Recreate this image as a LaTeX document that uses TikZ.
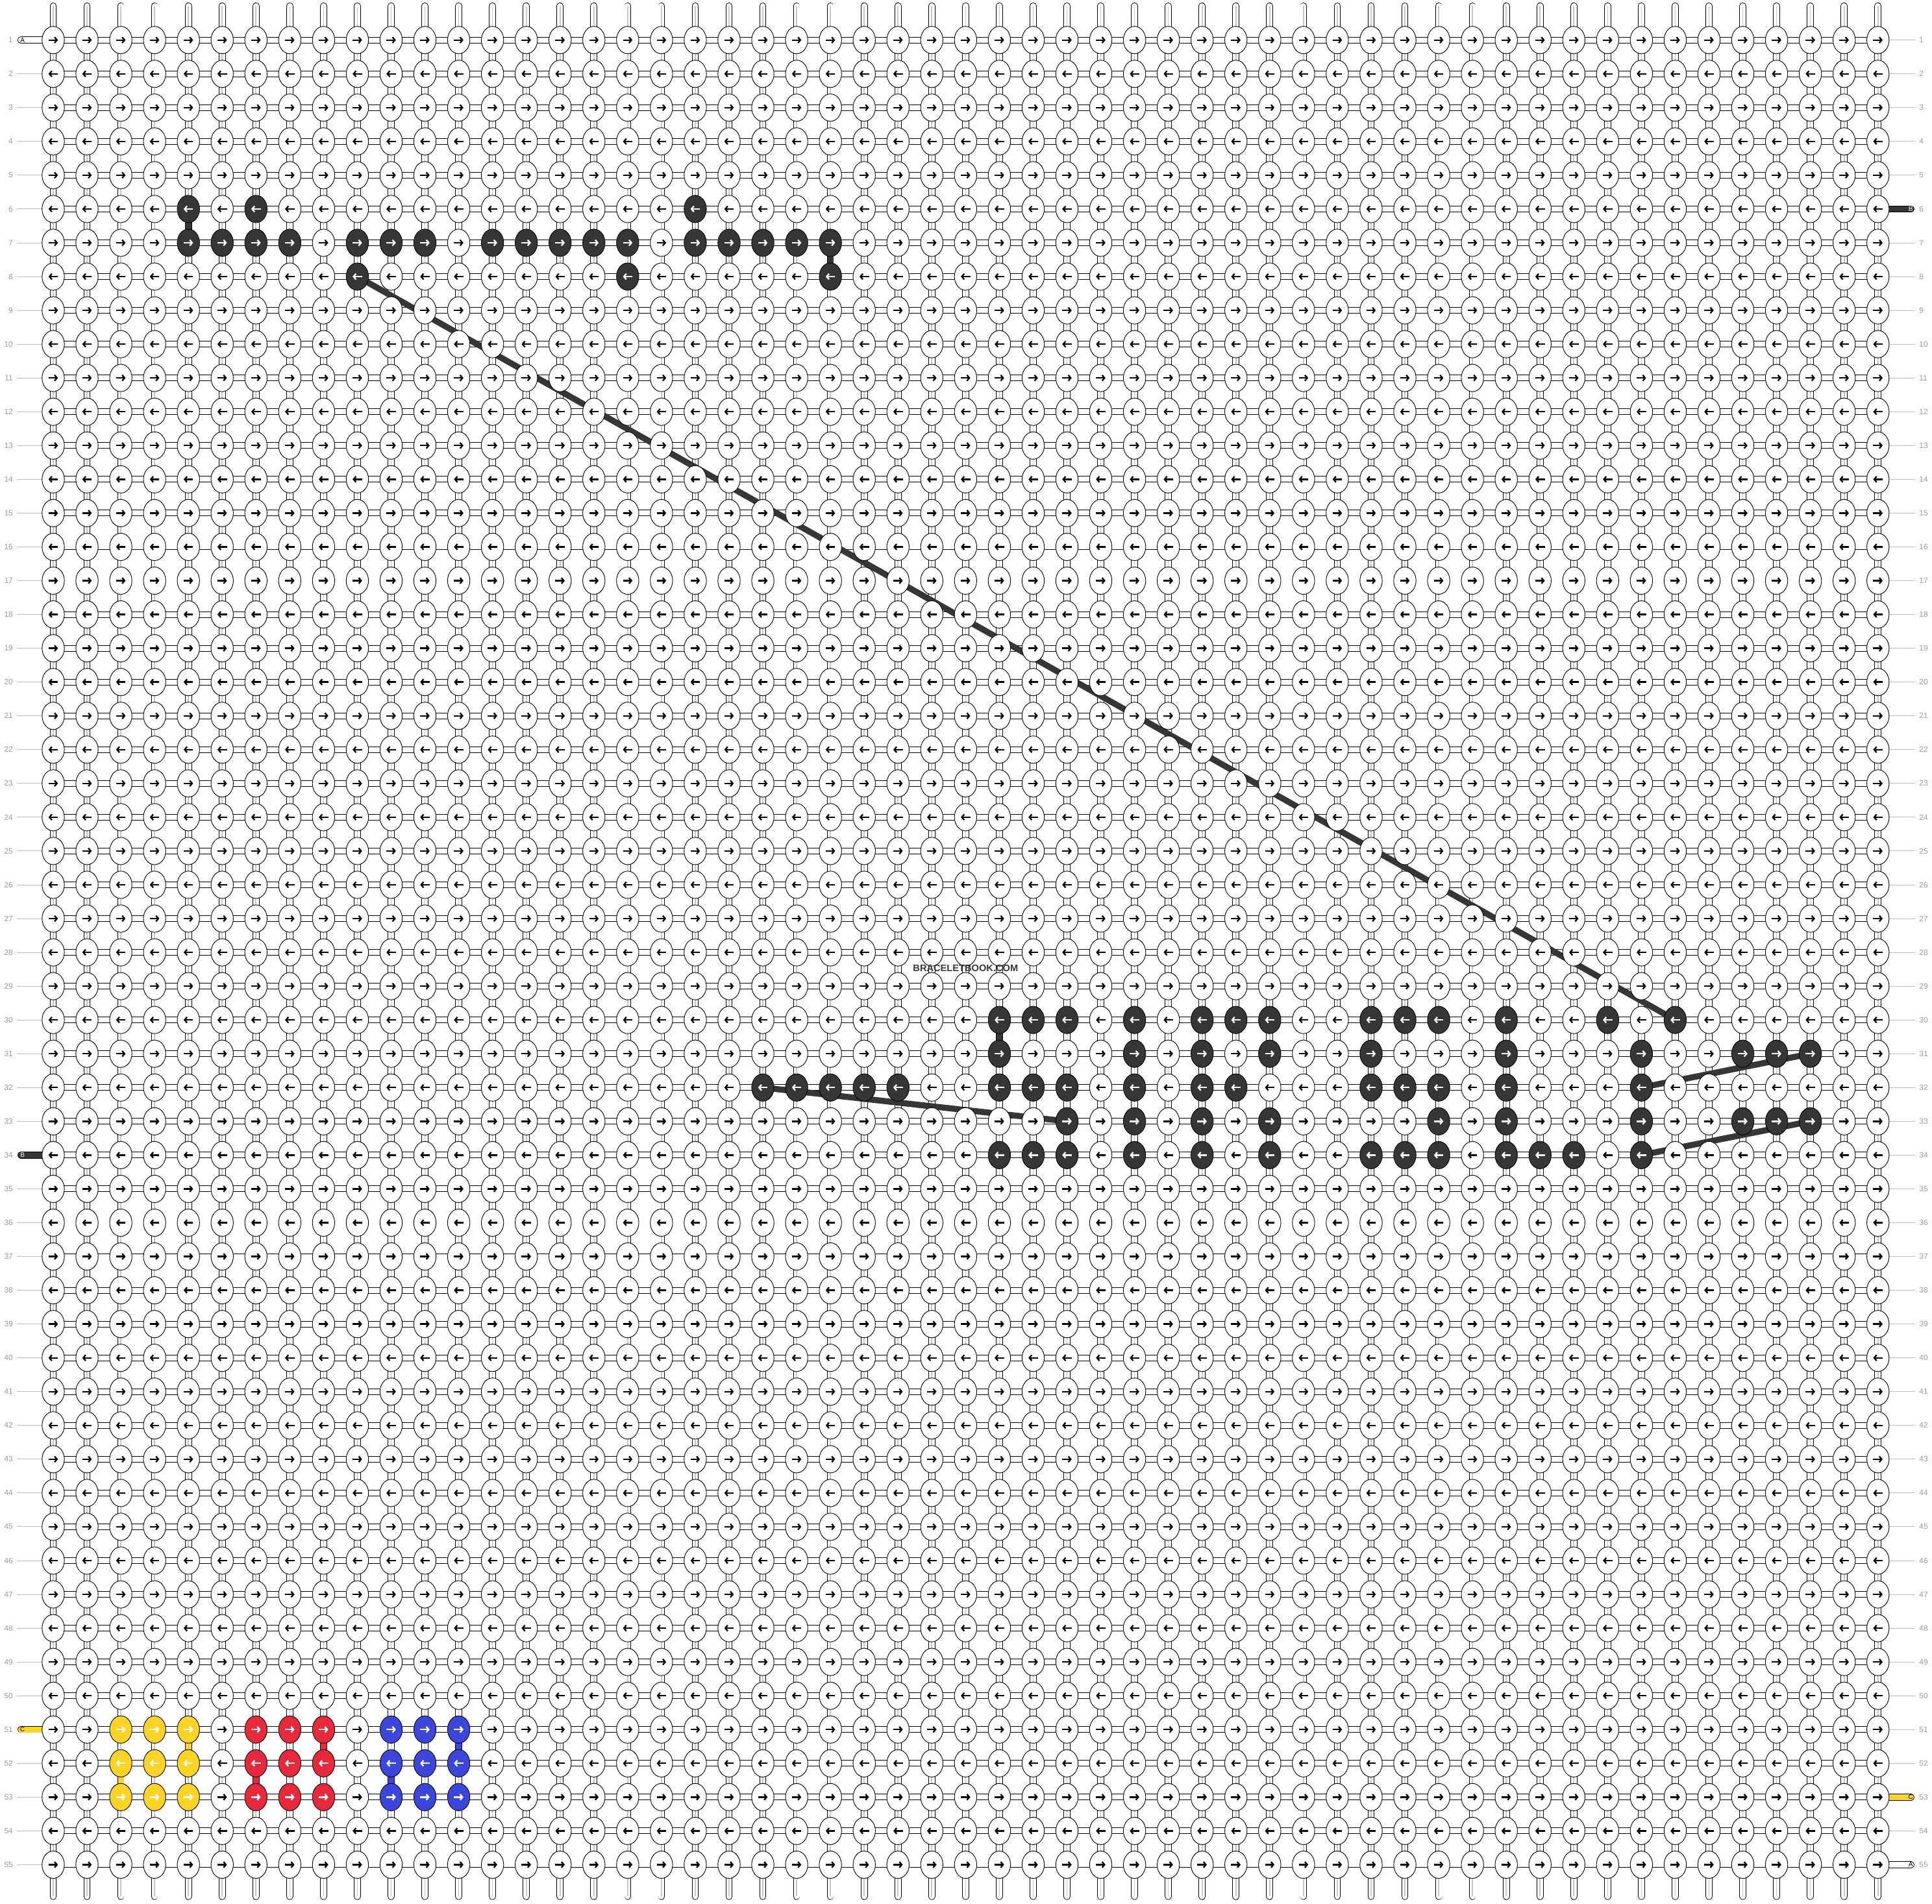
\documentclass[tikz,border=0pt]{standalone}
\usepackage{fontspec}
\setmainfont{Liberation Sans}
\usetikzlibrary{arrows.meta, positioning}
\pgfdeclarelayer{background}
\pgfdeclarelayer{foreground}
\pgfsetlayers{background,main,foreground}

\definecolor{darkB}{HTML}{363636}
\definecolor{yellowC}{HTML}{FDD424}
\definecolor{redK}{HTML}{E8283B}
\definecolor{blueK}{HTML}{3A46DC}
\definecolor{numgray}{HTML}{9A9A9A}
\definecolor{linegray}{HTML}{BDBDBD}
\definecolor{coregray}{HTML}{C8C8C8}

\tikzset{knot/.style={inner sep=0pt, outer sep=0pt},
  tube/.style={line width=0.5pt, double=white, double distance=0.17cm, line cap=round},
  tubecore/.style={line width=0.9pt, draw=coregray},
  htube/.style={line width=0.5pt, double=white, double distance=0.155cm},
  strand/.style={line width=0.5pt, double=#1, double distance=0.165cm, line cap=round},
  vlink/.style={line width=0.5pt, double=#1, double distance=0.17cm},
  carry/.style={line width=0.18cm, draw=darkB},
  numlabel/.style={inner sep=0pt, text=numgray, font=\fontsize{6.5}{7}\selectfont},
  numline/.style={line width=0.5pt, draw=linegray},
  endlabel/.style={inner sep=0pt, font=\fontsize{5.5}{6}\selectfont}
}

\newsavebox\knotWR \newsavebox\knotWL
\newsavebox\knotDR \newsavebox\knotDL
\newsavebox\knotYR \newsavebox\knotYL
\newsavebox\knotRR \newsavebox\knotRL
\newsavebox\knotBR \newsavebox\knotBL

% one knot: fill, arrow colour, arrow start, arrow end
\newcommand\knotpic[4]{\begin{pgfpicture}
    \pgfpathrectanglecorners{\pgfpoint{-0.4cm}{-0.45cm}}{\pgfpoint{0.4cm}{0.45cm}}
    \pgfusepath{use as bounding box}
    \pgfsetlinewidth{0.5pt}
    \pgfsetfillcolor{#1}\pgfsetstrokecolor{black}
    \pgfpathellipse{\pgfpointorigin}{\pgfpoint{0.33cm}{0pt}}{\pgfpoint{0pt}{0.405cm}}
    \pgfusepath{fill,stroke}
    \pgfsetlinewidth{1.3pt}
    \pgfsetstrokecolor{#2}
    \pgfsetarrowsend{Straight Barb[length=0.07cm, width=0.17cm]}
    \pgfpathmoveto{\pgfpoint{#3}{0pt}}
    \pgfpathlineto{\pgfpoint{#4}{0pt}}
    \pgfusepath{stroke}
  \end{pgfpicture}}
\newcommand\makeknot[5]{\sbox#1{\pgfinterruptpicture\knotpic{#2}{#3}{#4}{#5}\endpgfinterruptpicture}}

% colour code of knots: \setknots{code}{row}{columns}
\newcommand\setknots[3]{\foreach \cl in {#3}{%
    \expandafter\xdef\csname kc-#2-\cl\endcsname{#1}}}

\begin{document}
\begin{tikzpicture}
        \useasboundingbox (-0.575, 0.185) rectangle (56.6, -56.145);

        \makeknot\knotWR{white}{black}{-0.14cm}{0.14cm}
        \makeknot\knotWL{white}{black}{0.14cm}{-0.14cm}
        \makeknot\knotDR{darkB}{white}{-0.14cm}{0.14cm}
        \makeknot\knotDL{darkB}{white}{0.14cm}{-0.14cm}
        \makeknot\knotYR{yellowC}{white}{-0.14cm}{0.14cm}
        \makeknot\knotYL{yellowC}{white}{0.14cm}{-0.14cm}
        \makeknot\knotRR{redK}{white}{-0.14cm}{0.14cm}
        \makeknot\knotRL{redK}{white}{0.14cm}{-0.14cm}
        \makeknot\knotBR{blueK}{white}{-0.14cm}{0.14cm}
        \makeknot\knotBL{blueK}{white}{0.14cm}{-0.14cm}

        \setknots{D}{6}{5,7,20}
        \setknots{D}{7}{5,6,7,8,10,11,12,14,15,16,17,18,20,21,22,23,24}
        \setknots{D}{8}{10,18,24}
        \setknots{D}{30}{29,30,31,33,35,36,37,40,41,42,44,47,49}
        \setknots{D}{31}{29,33,35,37,40,44,48,51,52,53}
        \setknots{D}{32}{22,23,24,25,26,29,30,31,33,35,36,40,41,42,44,48}
        \setknots{D}{33}{31,33,35,37,42,44,48,51,52,53}
        \setknots{D}{34}{29,30,31,33,35,37,40,41,42,44,45,46,48}
        \foreach \rw in {51,52,53}{
            \setknots{Y}{\rw}{3,4,5}
            \setknots{R}{\rw}{7,8,9}
            \setknots{B}{\rw}{11,12,13}
        }

        % knots, odd rows tied to the right, even rows to the left
        \foreach \rw in {1,...,55}{
            \ifodd\rw\relax \def\kdir{R}\else \def\kdir{L}\fi
            \foreach \cl in {1,...,55}{
                \ifcsname kc-\rw-\cl\endcsname
                    \edef\kcode{\csname kc-\rw-\cl\endcsname}%
                \else
                    \def\kcode{W}%
                \fi
                \node[knot] (k-\rw-\cl) at (\cl, -\rw) {\usebox{\csname knot\kcode\kdir\endcsname}};
            }
            \node[numlabel, anchor=east] (lnum-\rw) at (-0.172, -\rw) {\rw};
            \node[numlabel, anchor=west] (rnum-\rw) at (56.2, -\rw) {\rw};
        }

        \foreach \cl in {1,...,55}{
            \coordinate (top-\cl) at (\cl, 0.008);
            \coordinate (bot-\cl) at (\cl, -55.94);
        }
        \coordinate (in-A) at (0.04, -1);
        \coordinate (in-B) at (0.04, -34);
        \coordinate (in-C) at (0.04, -51);
        \coordinate (out-B) at (55.98, -6);
        \coordinate (out-C) at (55.98, -53);
        \coordinate (out-A) at (55.98, -55);

        \begin{pgfonlayer}{background}
            \foreach \rw in {2,...,33,35,36,...,50,52,53,54,55}
                \draw[numline] ([xshift=0.1cm]lnum-\rw.east) -- (k-\rw-1.center);
            \foreach \rw in {1,...,5,7,8,...,52,54}
                \draw[numline] (k-\rw-55.center) -- ([xshift=-0.1cm]rnum-\rw.west);

            \foreach \cl in {1,...,55}{
                \draw[tube] (top-\cl) -- (bot-\cl);
                \draw[tubecore] (top-\cl) -- (bot-\cl);
            }
            \foreach \rw in {1,...,55}
                \draw[htube] (k-\rw-1.center) -- (k-\rw-55.center);

            \draw[strand=white] (in-A) -- (k-1-1.center);
            \draw[strand=darkB] (in-B) -- (k-34-1.center);
            \draw[strand=yellowC] (in-C) -- (k-51-1.center);
            \draw[strand=darkB] (k-6-55.center) -- (out-B);
            \draw[strand=yellowC] (k-53-55.center) -- (out-C);
            \draw[strand=white] (k-55-55.center) -- (out-A);

            \draw[vlink=darkB] (k-6-5.center) -- (k-7-5.center);
            \draw[vlink=darkB] (k-7-24.center) -- (k-8-24.center);
            \draw[vlink=darkB] (k-30-29.center) -- (k-31-29.center);
            \draw[vlink=yellowC] (k-51-5.center) -- (k-52-5.center);
            \draw[vlink=yellowC] (k-52-3.center) -- (k-53-3.center);
            \draw[vlink=redK] (k-51-9.center) -- (k-52-9.center);
            \draw[vlink=redK] (k-52-7.center) -- (k-53-7.center);
            \draw[vlink=blueK] (k-51-13.center) -- (k-52-13.center);
            \draw[vlink=blueK] (k-52-11.center) -- (k-53-11.center);

            \draw[carry] (k-8-10.center) -- (k-30-49.center);
            \draw[carry] (k-31-53.center) -- (k-32-48.center);
            \draw[carry] (k-32-22.center) -- (k-33-31.center);
            \draw[carry] (k-33-53.center) -- (k-34-48.center);
        \end{pgfonlayer}

        \node[endlabel] (lab-inA) at (0.09, -1) {A};
        \node[endlabel, text=white] (lab-inB) at (0.09, -34) {B};
        \node[endlabel] (lab-inC) at (0.09, -51) {C};
        \node[endlabel, text=white] (lab-outB) at (55.97, -6) {B};
        \node[endlabel] (lab-outC) at (55.97, -53) {C};
        \node[endlabel] (lab-outA) at (55.97, -55) {A};

        \begin{pgfonlayer}{foreground}
            \node[text=black!78, font=\bfseries\fontsize{8}{9}\selectfont] (mark) at (28, -28.47) {BRACELETBOOK.COM};
        \end{pgfonlayer}
\end{tikzpicture}
\end{document}
